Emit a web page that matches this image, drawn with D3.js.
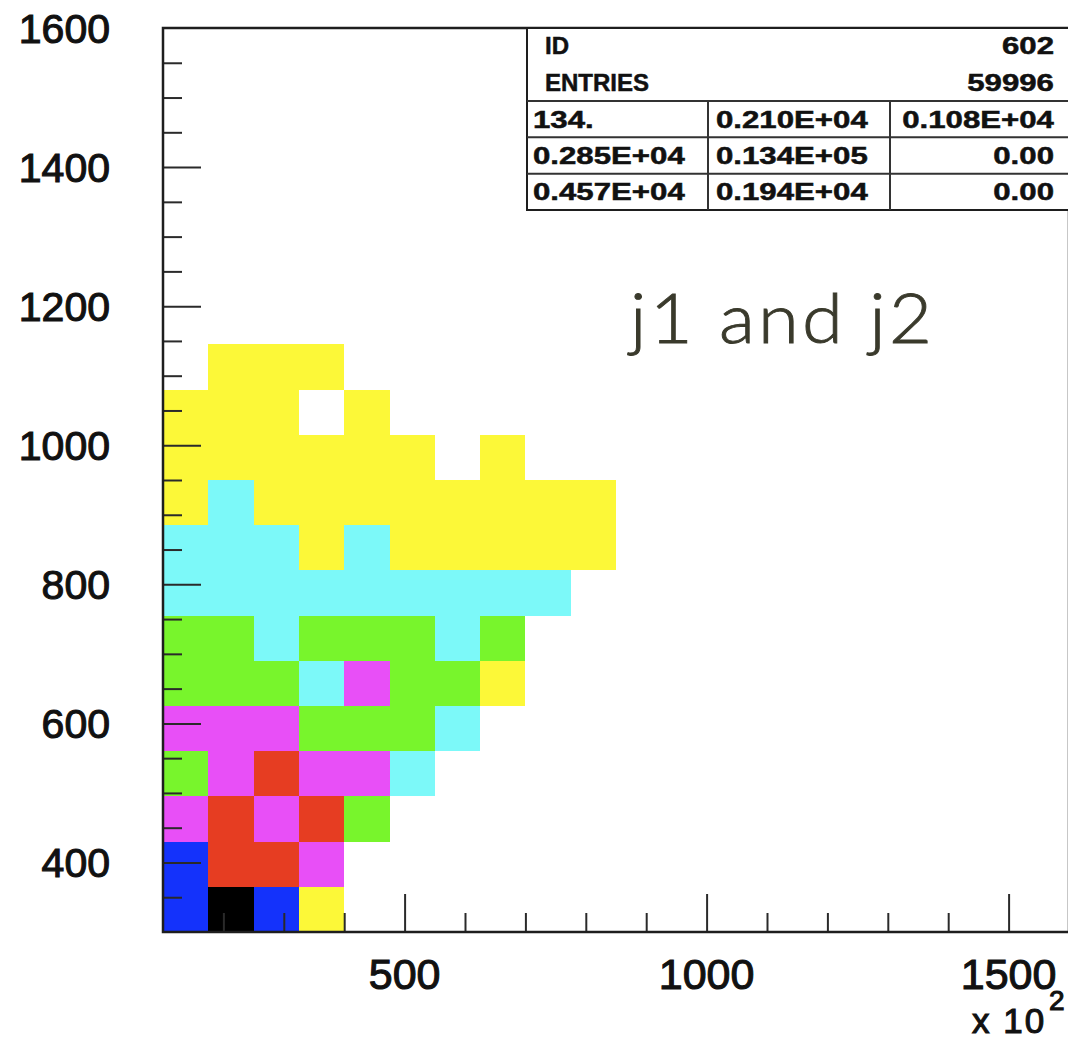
<!DOCTYPE html>
<html>
<head>
<meta charset="utf-8">
<script src="https://cdn.jsdelivr.net/npm/d3@7"></script>
<style>
  html, body { margin: 0; padding: 0; background: #ffffff; }
  svg { display: block; }
</style>
</head>
<body>
<svg id="chart" width="1068" height="1042"></svg>
<script>
// Histogram 602: booking limits and bin counts
const xLow = 100, xHigh = 1600, nBinsX = 20;
const yLow = 300, yHigh = 1600, nBinsY = 20;

// Bin contents, one array per y bin (lowest first); x bins past the end of an array are empty
const binsY300 = [430, 520, 410, 50];
const binsY365 = [405, 350, 330, 270];
const binsY430 = [260, 340, 250, 325, 190];
const binsY495 = [200, 280, 330, 260, 245, 120];
const binsY560 = [290, 270, 250, 210, 180, 170, 110];
const binsY625 = [220, 200, 170, 150, 250, 175, 165, 60];
const binsY690 = [190, 180, 140, 200, 185, 165, 115, 160];
const binsY755 = [150, 140, 130, 120, 115, 110, 100, 95, 85];
const binsY820 = [110, 100, 90, 70, 85, 65, 55, 45, 35, 25];
const binsY885 = [60, 90, 70, 60, 50, 45, 40, 30, 20, 12];
const binsY950 = [45, 40, 35, 30, 22, 15, 0, 8];
const binsY1015 = [25, 20, 15, 0, 6];
const binsY1080 = [0, 10, 8, 5];
const binRows = [binsY300, binsY365, binsY430, binsY495, binsY560, binsY625, binsY690,
                 binsY755, binsY820, binsY885, binsY950, binsY1015, binsY1080];

// Colour levels for the COLZ-style cells
const levelEdges = [1, 80, 160, 240, 320, 400, 480];
const levelColors = ["none", "#fcf838", "#7cf9f9", "#78f52c", "#e84ff7", "#e63d22", "#1432fb", "#000000"];

// Axis ticks and labels
const xMajorTicks = [500, 1000, 1500];
const xMinorTicks = [200, 300, 400, 600, 700, 800, 900, 1100, 1200, 1300, 1400];
const yMajorTicks = [400, 600, 800, 1000, 1200, 1400];
const yMinorTicks = [350, 450, 500, 550, 650, 700, 750, 850, 900, 950, 1050, 1100, 1150,
                     1250, 1300, 1350, 1450, 1500, 1550];
const yTickLabels = [400, 600, 800, 1000, 1200, 1400, 1600];
const xTickLabels = [500, 1000, 1500];
const xScaleNote = { base: "x 10", power: "2" };

// Statistics box
const statsHeader = [["ID", "602"], ["ENTRIES", "59996"]];
const statsTable = [
  ["134.", "0.210E+04", "0.108E+04"],
  ["0.285E+04", "0.134E+05", "0.00"],
  ["0.457E+04", "0.194E+04", "0.00"]
];
const titleText = "j1 and j2";

// ---------------------------------------------------------------
const svg = d3.select("#chart");
const plot = { left: 163, top: 28, right: 1069, bottom: 932 };

const x = d3.scaleLinear().domain([xLow, xHigh]).range([plot.left, plot.right]);
const y = d3.scaleLinear().domain([yLow, yHigh]).range([plot.bottom, plot.top]);
const colour = d3.scaleThreshold().domain(levelEdges).range(levelColors);

const binW = (xHigh - xLow) / nBinsX;
const binH = (yHigh - yLow) / nBinsY;

const cells = [];
binRows.forEach((row, iy) => {
  row.forEach((v, ix) => {
    if (v > 0) cells.push({ ix, iy, v });
  });
});

svg.append("g")
  .attr("shape-rendering", "crispEdges")
  .selectAll("rect")
  .data(cells)
  .join("rect")
  .attr("x", d => x(xLow + d.ix * binW))
  .attr("y", d => y(yLow + (d.iy + 1) * binH))
  .attr("width", d => x(xLow + (d.ix + 1) * binW) - x(xLow + d.ix * binW))
  .attr("height", d => y(yLow + d.iy * binH) - y(yLow + (d.iy + 1) * binH))
  .attr("fill", d => colour(d.v));

// Inward ticks
const tickColour = "#2a2a2a";
const axisFont = "'Liberation Sans', Arial, Helvetica, sans-serif";

const yAxisMajor = d3.axisRight(y).tickValues(yMajorTicks).tickSize(38).tickFormat("");
const yAxisMinor = d3.axisRight(y).tickValues(yMinorTicks).tickSize(19).tickFormat("");
const xAxisMajor = d3.axisTop(x).tickValues(xMajorTicks).tickSize(38).tickFormat("");
const xAxisMinor = d3.axisTop(x).tickValues(xMinorTicks).tickSize(19).tickFormat("");

function styleTicks(g) {
  g.select(".domain").remove();
  g.selectAll(".tick line").attr("stroke", tickColour).attr("stroke-width", 2);
}
svg.append("g").attr("transform", `translate(${plot.left},0)`).call(yAxisMajor).call(styleTicks);
svg.append("g").attr("transform", `translate(${plot.left},0)`).call(yAxisMinor).call(styleTicks);
svg.append("g").attr("transform", `translate(0,${plot.bottom})`).call(xAxisMajor).call(styleTicks);
svg.append("g").attr("transform", `translate(0,${plot.bottom})`).call(xAxisMinor).call(styleTicks);

// Frame
svg.append("rect")
  .attr("x", plot.left).attr("y", plot.top)
  .attr("width", plot.right - plot.left).attr("height", plot.bottom - plot.top)
  .attr("fill", "none").attr("stroke", "#1e1e1e").attr("stroke-width", 2.5);

// Tick labels (regular face, slightly thickened with a thin outline)
function labelStyle(sel, size) {
  sel.attr("font-family", axisFont)
    .attr("font-size", size)
    .attr("fill", "#111")
    .attr("stroke", "#111")
    .attr("stroke-width", 1.1)
    .attr("paint-order", "stroke");
}
svg.append("g").selectAll("text")
  .data(yTickLabels)
  .join("text")
  .attr("x", 110)
  .attr("y", d => y(d))
  .attr("dy", "0.36em")
  .attr("text-anchor", "end")
  .call(labelStyle, 41)
  .text(d => d);

svg.append("g").selectAll("text")
  .data(xTickLabels)
  .join("text")
  .attr("x", d => x(d))
  .attr("y", 989)
  .attr("text-anchor", "middle")
  .call(labelStyle, 43)
  .text(d => d);

// Axis multiplier, written as x 10 with a raised exponent
svg.append("text")
  .attr("x", 972).attr("y", 1033)
  .call(labelStyle, 35)
  .attr("letter-spacing", 2)
  .text(xScaleNote.base);
svg.append("text")
  .attr("x", 1049).attr("y", 1010)
  .call(labelStyle, 28)
  .text(xScaleNote.power);

// Statistics box
const box = { left: 527, top: 28, right: 1069, headerBottom: 101, bottom: 210, col1: 708, col2: 890 };
const statsFont = "'Liberation Sans', Arial, Helvetica, sans-serif";
const sb = svg.append("g");
sb.append("rect")
  .attr("x", box.left).attr("y", box.top)
  .attr("width", box.right - box.left).attr("height", box.bottom - box.top)
  .attr("fill", "#ffffff").attr("stroke", "#1e1e1e").attr("stroke-width", 2);

const rowH = (box.bottom - box.headerBottom) / statsTable.length;
const lines = [box.headerBottom, box.headerBottom + rowH, box.headerBottom + 2 * rowH];
sb.selectAll("line.h").data(lines).join("line")
  .attr("x1", box.left).attr("x2", box.right)
  .attr("y1", d => d).attr("y2", d => d)
  .attr("stroke", "#333").attr("stroke-width", 2);
sb.selectAll("line.v").data([box.col1, box.col2]).join("line")
  .attr("x1", d => d).attr("x2", d => d)
  .attr("y1", box.headerBottom).attr("y2", box.bottom)
  .attr("stroke", "#333").attr("stroke-width", 2);

function statText(g, txt, xPos, yPos, anchor) {
  const numeric = /^[0-9.E+\-]+$/.test(txt);
  const t = g.append("text")
    .attr("y", yPos)
    .attr("font-family", statsFont)
    .attr("font-weight", "bold")
    .attr("font-size", 24)
    .attr("fill", "#111")
    .attr("stroke", "#111")
    .attr("stroke-width", 0.5)
    .text(txt);
  // wide digits: stretch numeric strings horizontally
  const sx = numeric ? 1.3 : 1.0;
  const w = t.node().getComputedTextLength() * sx;
  const left = anchor === "end" ? xPos - w : xPos;
  t.attr("x", 0).attr("transform", `translate(${left},0) scale(${sx},1)`);
}
statsHeader.forEach((r, i) => {
  const yy = box.top + 26 + i * 37;
  statText(sb, r[0], 545, yy, "start");
  statText(sb, r[1], 1054, yy, "end");
});
statsTable.forEach((r, i) => {
  const yy = box.headerBottom + rowH * i + rowH / 2 + 8.5;
  statText(sb, r[0], 533, yy, "start");
  statText(sb, r[1], 716, yy, "start");
  statText(sb, r[2], 1054, yy, "end");
});

// Title
const title = svg.append("text")
  .attr("x", 0).attr("y", 0)
  .attr("font-family", "Lato, 'Open Sans', sans-serif")
  .attr("font-weight", 300)
  .attr("font-size", 68)
  .attr("fill", "#3a3a2c")
  .attr("stroke", "#3a3a2c")
  .attr("stroke-width", 0.9)
  .text(titleText);
const natural = title.node().getComputedTextLength();
const targetW = 302;
const tsx = Math.sqrt(targetW / natural);
title.attr("textLength", targetW / tsx)
  .attr("lengthAdjust", "spacing")
  .attr("transform", `translate(630,343) scale(${tsx},1)`);
</script>
</body>
</html>
